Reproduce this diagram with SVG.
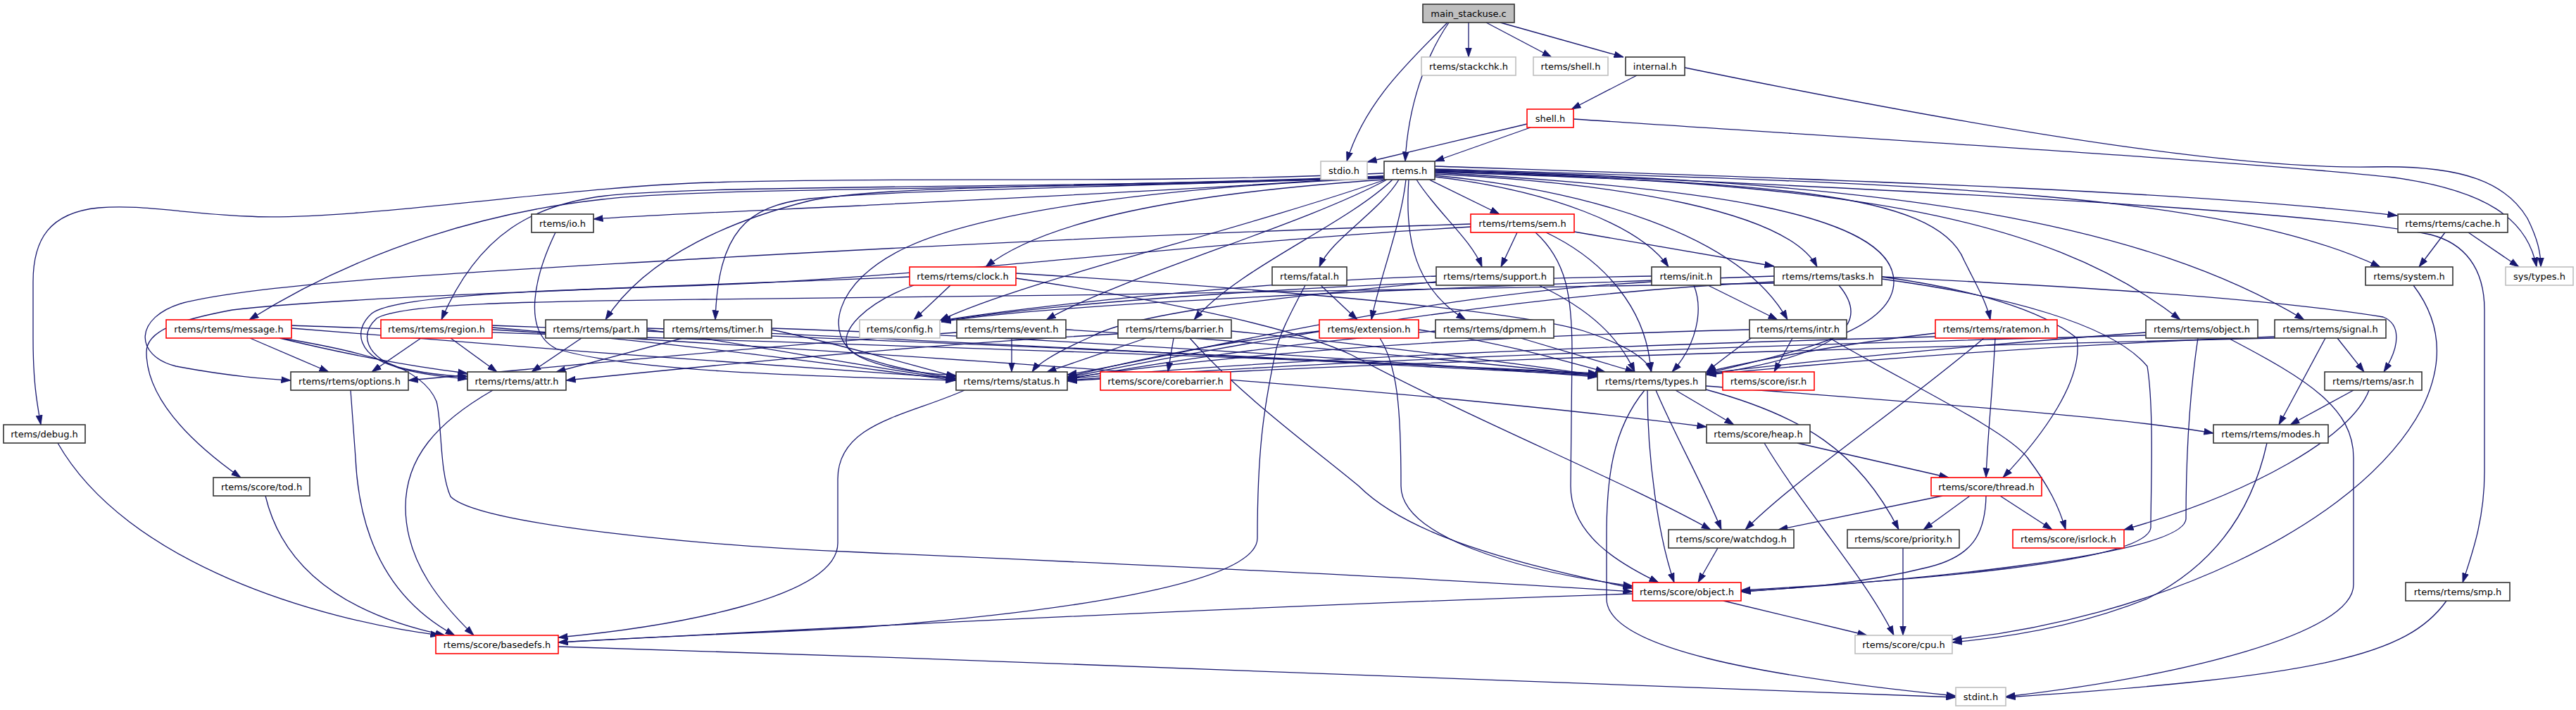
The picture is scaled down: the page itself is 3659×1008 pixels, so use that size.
<svg xmlns="http://www.w3.org/2000/svg" width="3659" height="1008" viewBox="0 0 3659 1008">
<defs>
<style>
.e path{fill:none;stroke:#191970;stroke-width:1.3;marker-end:url(#a)}
.n rect{fill:#fff;stroke-width:1.6}
.k rect{stroke:#333}
.r rect{stroke:#ff0000}
.g rect{stroke:#bfbfbf}
.m rect{fill:#bfbfbf;stroke:#333}
.n text{font-family:"DejaVu Sans",Verdana,sans-serif;font-size:13px;text-anchor:middle;fill:#000}
</style>
<marker id="a" viewBox="0 0 14 10" refX="13.5" refY="5" markerWidth="14" markerHeight="10" markerUnits="userSpaceOnUse" orient="auto">
<path d="M0,0.5 L13.5,5 L0,9.5 Z" fill="#191970" stroke="#191970" stroke-width="0.8"/>
</marker>
</defs>
<rect x="0" y="0" width="3659" height="1008" fill="#fff"/>
<g id="edges" class="e">
<path d="M2056,32 C2010,80 1940,140 1913,229"/>
<path d="M2058,32 C2025,80 2000,150 1996,229"/>
<path d="M2086,32 L2086,81"/>
<path d="M2111,32 L2204,81"/>
<path d="M2131,32 L2306,81"/>
<path d="M2325,107 L2232,155"/>
<path d="M2393,96 C2900,200 3200,240 3370,237 C3500,234 3560,260 3590,310 C3605,340 3609,360 3609,379"/>
<path d="M2169,176 L1942,230"/>
<path d="M2174,181 L2038,229"/>
<path d="M2235,169 C2700,200 3200,230 3400,252 C3530,270 3590,310 3603,379"/>
<path d="M3506,330 L3578,379"/>
<path d="M3473,330 L3436,379"/>
<path d="M1965,250 C1700,270 1350,285 1220,292 C1050,300 930,305 843,311"/>
<path d="M1965,246 C1600,262 1300,250 1011,259 C800,265 500,315 350,307 C250,302 200,290 140,295 C70,302 47,340 47,400 L47,480 C47,540 52,570 58,603"/>
<path d="M1965,252 C1500,270 1000,265 856,283 C700,300 520,350 354,454"/>
<path d="M1965,252 C1500,268 1000,262 860,278 C760,290 680,330 627,454"/>
<path d="M1965,250 C1600,265 1250,262 1150,285 C1050,310 920,360 860,454"/>
<path d="M1965,251 C1600,266 1250,270 1150,282 C1060,292 1020,330 1016,454"/>
<path d="M1966,255 C1750,270 1500,300 1400,379"/>
<path d="M1968,255 C1750,330 1450,400 1335,455"/>
<path d="M1970,255 C1850,320 1600,390 1486,454"/>
<path d="M1978,255 C1910,320 1760,380 1696,454"/>
<path d="M1987,255 C1960,300 1890,340 1874,379"/>
<path d="M1997,255 C1990,320 1958,400 1948,454"/>
<path d="M2001,255 C1995,340 2010,410 2082,454"/>
<path d="M2012,255 C2040,300 2090,340 2105,379"/>
<path d="M2030,255 L2130,304"/>
<path d="M2038,251 C2200,270 2330,320 2370,379"/>
<path d="M2038,249 C2250,270 2470,330 2539,454"/>
<path d="M2038,247 C2300,260 2540,300 2581,379"/>
<path d="M2038,245 C2400,265 2690,300 2690,400 C2690,470 2550,500 2424,530"/>
<path d="M2038,244 C2500,260 2750,270 2790,370 C2810,410 2822,430 2827,454"/>
<path d="M2038,243 C2600,260 2900,300 3097,454"/>
<path d="M2038,242 C2700,255 3050,320 3273,454"/>
<path d="M2038,240 C2700,260 3150,270 3381,379"/>
<path d="M2038,236 C2600,255 3100,270 3405,306"/>
<path d="M2038,241 C2700,268 3300,300 3452,333 C3500,345 3529,380 3529,440 L3529,670 C3529,740 3510,790 3498,827"/>
<path d="M1966,253 C1650,265 1400,300 1290,350 C1180,400 1170,480 1220,505 C1260,520 1310,530 1357,537"/>
<path d="M789,330 C760,390 740,470 790,495 C900,530 1200,535 1357,540"/>
<path d="M2155,330 L2132,379"/>
<path d="M2236,329 L2520,378"/>
<path d="M2196,330 C2280,370 2340,440 2345,528"/>
<path d="M2181,330 C2225,370 2233,420 2233,500 L2231,690 C2231,760 2300,800 2356,827"/>
<path d="M2089,318 C1700,330 1300,350 1000,367 C700,385 380,400 260,430 C190,450 190,505 250,520 C330,535 380,538 413,540"/>
<path d="M2089,322 C1700,345 1300,395 1000,405 C750,413 560,420 528,445 C500,470 510,505 560,520 C600,530 630,533 664,535"/>
<path d="M1350,405 L1298,454"/>
<path d="M1298,405 C1230,430 1190,470 1205,495 C1230,520 1300,530 1358,533"/>
<path d="M1443,388 C1800,410 2150,440 2250,470 C2310,490 2340,510 2346,528"/>
<path d="M1443,395 C1680,430 1850,470 1920,504 C2100,600 2300,680 2430,752"/>
<path d="M1292,393 C1000,405 500,420 330,440 C250,455 208,470 208,500 C208,560 260,620 342,678"/>
<path d="M1876,405 L1928,454"/>
<path d="M1854,405 C1830,450 1815,480 1811,504 C1795,580 1786,640 1786,764 C1786,830 1500,870 1220,891 C1050,900 900,905 793,912"/>
<path d="M2040,392 C1800,400 1500,430 1337,455"/>
<path d="M2186,405 C2260,440 2300,480 2322,528"/>
<path d="M2040,400 C1850,420 1620,440 1550,478 C1500,500 1475,515 1466,528"/>
<path d="M2346,392 C1900,400 1500,430 1337,456"/>
<path d="M2426,405 L2525,454"/>
<path d="M2406,405 C2420,440 2410,490 2375,528"/>
<path d="M2346,400 C2000,420 1700,500 1516,532"/>
<path d="M2520,392 C2000,410 1500,430 1337,457"/>
<path d="M2612,405 C2650,450 2640,500 2424,532"/>
<path d="M2673,393 C2800,410 2900,440 2950,480 C2960,540 2900,620 2845,678"/>
<path d="M2673,396 C2850,420 3000,460 3050,520 C3060,580 3055,700 3055,749 C3050,800 2700,825 2473,838"/>
<path d="M2673,393 C2900,405 3200,420 3385,450 C3410,460 3410,490 3386,528"/>
<path d="M2520,402 C2200,410 1500,420 1000,425 C760,428 570,430 535,452 C510,475 520,505 565,522 C600,532 635,535 664,538"/>
<path d="M2520,400 C2100,420 1700,500 1516,536"/>
<path d="M355,480 L467,528"/>
<path d="M397,480 C480,500 580,520 664,530"/>
<path d="M414,466 C700,490 1100,520 1358,537"/>
<path d="M414,462 C900,480 1800,505 2269,530"/>
<path d="M400,480 C520,500 600,520 620,570 C628,600 624,670 640,705 C680,745 1000,775 1220,784 C1700,805 2100,825 2319,840"/>
<path d="M598,480 L528,528"/>
<path d="M640,480 L706,528"/>
<path d="M699,465 C1000,490 1200,520 1358,540"/>
<path d="M699,462 C1200,480 1900,510 2269,532"/>
<path d="M699,468 C1200,500 1900,540 2424,606"/>
<path d="M826,480 L755,528"/>
<path d="M919,468 C1100,495 1250,525 1358,538"/>
<path d="M919,466 C1300,480 1900,515 2269,533"/>
<path d="M970,480 L790,528"/>
<path d="M1096,468 C1200,490 1300,520 1358,535"/>
<path d="M1096,466 C1500,480 2000,515 2269,535"/>
<path d="M1437,480 L1437,528"/>
<path d="M1359,472 C1100,490 800,520 580,540"/>
<path d="M1514,468 C1800,485 2100,515 2269,533"/>
<path d="M1628,480 L1487,528"/>
<path d="M1667,480 L1659,528"/>
<path d="M1690,480 C1760,560 1870,640 1930,690 C2000,760 2150,800 2319,835"/>
<path d="M1588,474 C1300,490 1000,520 804,540"/>
<path d="M1749,470 C1950,490 2150,515 2269,533"/>
<path d="M1874,470 C1700,490 1600,515 1516,535"/>
<path d="M2015,468 C2150,490 2230,515 2280,528"/>
<path d="M1960,480 C1985,520 1990,580 1990,690 C1990,760 2150,810 2319,832"/>
<path d="M2039,470 C1800,490 1650,515 1516,538"/>
<path d="M2160,480 L2322,528"/>
<path d="M2546,480 L2520,528"/>
<path d="M2485,468 C2000,480 1700,510 1516,537"/>
<path d="M2490,478 C2460,500 2440,515 2424,528"/>
<path d="M2599,480 C2700,540 2850,610 2880,650 C2910,690 2925,720 2934,752"/>
<path d="M2749,473 C2600,490 2480,515 2424,528"/>
<path d="M2749,478 C2300,490 1800,510 1516,538"/>
<path d="M2818,480 C2700,580 2550,680 2479,752"/>
<path d="M2834,480 C2830,560 2823,620 2821,678"/>
<path d="M3048,472 C2800,490 2550,515 2424,530"/>
<path d="M3048,476 C2500,490 1900,510 1516,540"/>
<path d="M3122,480 C3110,560 3105,650 3105,737 C3100,790 2700,825 2473,840"/>
<path d="M3165,480 C3280,540 3343,580 3343,650 L3343,830 C3343,900 3100,960 2849,989"/>
<path d="M3320,480 L3358,528"/>
<path d="M3303,480 L3237,603"/>
<path d="M3231,478 C2900,490 2600,515 2424,532"/>
<path d="M3231,480 C2600,495 1900,515 1516,541"/>
<path d="M3343,554 L3253,603"/>
<path d="M3365,554 C3340,620 3200,700 3017,752"/>
<path d="M3220,629 C3200,720 3150,800 3050,850 C2950,890 2850,905 2773,912"/>
<path d="M3428,405 C3470,460 3470,520 3440,580 C3350,750 3050,880 2773,908"/>
<path d="M3475,853 C3420,930 3300,960 2849,990"/>
<path d="M2380,554 L2463,603"/>
<path d="M2423,548 C2700,570 3000,590 3144,615"/>
<path d="M2352,554 C2380,620 2420,690 2445,752"/>
<path d="M2340,554 C2340,650 2355,760 2378,827"/>
<path d="M2423,553 C2560,590 2640,640 2697,752"/>
<path d="M2336,554 C2290,610 2282,680 2282,760 L2282,850 C2282,920 2500,960 2778,988"/>
<path d="M1370,554 C1290,590 1190,600 1190,680 L1190,771 C1190,850 950,890 793,905"/>
<path d="M700,554 C620,600 576,650 576,720 C576,800 630,860 673,902"/>
<path d="M498,554 L505,650 C510,760 550,850 646,902"/>
<path d="M82,629 C180,800 450,880 625,902"/>
<path d="M377,704 C400,800 480,870 632,902"/>
<path d="M2319,843 C1800,860 1200,890 793,912"/>
<path d="M2448,853 L2652,902"/>
<path d="M793,918 C1500,940 2300,970 2778,990"/>
<path d="M2553,629 L2768,678"/>
<path d="M2506,629 C2560,720 2650,820 2690,902"/>
<path d="M2759,704 L2526,752"/>
<path d="M2798,704 L2732,752"/>
<path d="M2841,704 L2915,752"/>
<path d="M2821,704 C2820,760 2800,790 2740,805 C2640,830 2550,835 2473,840"/>
<path d="M2440,778 L2412,827"/>
<path d="M2703,778 L2703,902"/>
</g>
<g id="n_main" class="n m"><rect x="2021" y="6" width="130" height="26"/><text x="2086" y="24">main_stackuse.c</text></g>
<g id="n_stackchk" class="n g"><rect x="2019" y="81" width="134" height="26"/><text x="2086" y="99">rtems/stackchk.h</text></g>
<g id="n_rshell" class="n g"><rect x="2178" y="81" width="106" height="26"/><text x="2231" y="99">rtems/shell.h</text></g>
<g id="n_internal" class="n k"><rect x="2309" y="81" width="84" height="26"/><text x="2351" y="99">internal.h</text></g>
<g id="n_shell" class="n r"><rect x="2169" y="155" width="66" height="26"/><text x="2202" y="173">shell.h</text></g>
<g id="n_stdio" class="n g"><rect x="1876" y="229" width="66" height="26"/><text x="1909" y="247">stdio.h</text></g>
<g id="n_rtems" class="n k"><rect x="1966" y="229" width="72" height="26"/><text x="2002" y="247">rtems.h</text></g>
<g id="n_io" class="n k"><rect x="755" y="304" width="88" height="26"/><text x="799" y="322">rtems/io.h</text></g>
<g id="n_sem" class="n r"><rect x="2089" y="304" width="147" height="26"/><text x="2162.5" y="322">rtems/rtems/sem.h</text></g>
<g id="n_cache" class="n k"><rect x="3406" y="304" width="156" height="26"/><text x="3484" y="322">rtems/rtems/cache.h</text></g>
<g id="n_clock" class="n r"><rect x="1292" y="379" width="151" height="26"/><text x="1367.5" y="397">rtems/rtems/clock.h</text></g>
<g id="n_fatal" class="n k"><rect x="1807" y="379" width="106" height="26"/><text x="1860" y="397">rtems/fatal.h</text></g>
<g id="n_support" class="n k"><rect x="2040" y="379" width="167" height="26"/><text x="2123.5" y="397">rtems/rtems/support.h</text></g>
<g id="n_init" class="n k"><rect x="2346" y="379" width="98" height="26"/><text x="2395" y="397">rtems/init.h</text></g>
<g id="n_tasks" class="n k"><rect x="2520" y="379" width="153" height="26"/><text x="2596.5" y="397">rtems/rtems/tasks.h</text></g>
<g id="n_system" class="n k"><rect x="3360" y="379" width="124" height="26"/><text x="3422" y="397">rtems/system.h</text></g>
<g id="n_systypes" class="n g"><rect x="3559" y="379" width="96" height="26"/><text x="3607" y="397">sys/types.h</text></g>
<g id="n_message" class="n r"><rect x="236" y="454" width="178" height="26"/><text x="325" y="472">rtems/rtems/message.h</text></g>
<g id="n_region" class="n r"><rect x="541" y="454" width="158" height="26"/><text x="620" y="472">rtems/rtems/region.h</text></g>
<g id="n_part" class="n k"><rect x="775" y="454" width="144" height="26"/><text x="847" y="472">rtems/rtems/part.h</text></g>
<g id="n_timer" class="n k"><rect x="943" y="454" width="153" height="26"/><text x="1019.5" y="472">rtems/rtems/timer.h</text></g>
<g id="n_config" class="n g"><rect x="1221" y="454" width="114" height="26"/><text x="1278" y="472">rtems/config.h</text></g>
<g id="n_event" class="n k"><rect x="1359" y="454" width="155" height="26"/><text x="1436.5" y="472">rtems/rtems/event.h</text></g>
<g id="n_barrier" class="n k"><rect x="1588" y="454" width="161" height="26"/><text x="1668.5" y="472">rtems/rtems/barrier.h</text></g>
<g id="n_extension" class="n r"><rect x="1874" y="454" width="141" height="26"/><text x="1944.5" y="472">rtems/extension.h</text></g>
<g id="n_dpmem" class="n k"><rect x="2039" y="454" width="168" height="26"/><text x="2123" y="472">rtems/rtems/dpmem.h</text></g>
<g id="n_intr" class="n k"><rect x="2485" y="454" width="138" height="26"/><text x="2554" y="472">rtems/rtems/intr.h</text></g>
<g id="n_ratemon" class="n r"><rect x="2749" y="454" width="173" height="26"/><text x="2835.5" y="472">rtems/rtems/ratemon.h</text></g>
<g id="n_robject" class="n k"><rect x="3048" y="454" width="159" height="26"/><text x="3127.5" y="472">rtems/rtems/object.h</text></g>
<g id="n_signal" class="n k"><rect x="3231" y="454" width="158" height="26"/><text x="3310" y="472">rtems/rtems/signal.h</text></g>
<g id="n_options" class="n k"><rect x="413" y="528" width="167" height="26"/><text x="496.5" y="546">rtems/rtems/options.h</text></g>
<g id="n_attr" class="n k"><rect x="664" y="528" width="140" height="26"/><text x="734" y="546">rtems/rtems/attr.h</text></g>
<g id="n_status" class="n k"><rect x="1358" y="528" width="158" height="26"/><text x="1437" y="546">rtems/rtems/status.h</text></g>
<g id="n_corebarrier" class="n r"><rect x="1563" y="528" width="185" height="26"/><text x="1655.5" y="546">rtems/score/corebarrier.h</text></g>
<g id="n_types" class="n k"><rect x="2269" y="528" width="154" height="26"/><text x="2346" y="546">rtems/rtems/types.h</text></g>
<g id="n_isr" class="n r"><rect x="2447" y="528" width="130" height="26"/><text x="2512" y="546">rtems/score/isr.h</text></g>
<g id="n_asr" class="n k"><rect x="3302" y="528" width="138" height="26"/><text x="3371" y="546">rtems/rtems/asr.h</text></g>
<g id="n_debug" class="n k"><rect x="5" y="603" width="116" height="26"/><text x="63" y="621">rtems/debug.h</text></g>
<g id="n_heap" class="n k"><rect x="2424" y="603" width="147" height="26"/><text x="2497.5" y="621">rtems/score/heap.h</text></g>
<g id="n_modes" class="n k"><rect x="3144" y="603" width="163" height="26"/><text x="3225.5" y="621">rtems/rtems/modes.h</text></g>
<g id="n_tod" class="n k"><rect x="303" y="678" width="137" height="26"/><text x="371.5" y="696">rtems/score/tod.h</text></g>
<g id="n_thread" class="n r"><rect x="2743" y="678" width="157" height="26"/><text x="2821.5" y="696">rtems/score/thread.h</text></g>
<g id="n_watchdog" class="n k"><rect x="2370" y="752" width="178" height="26"/><text x="2459" y="770">rtems/score/watchdog.h</text></g>
<g id="n_priority" class="n k"><rect x="2624" y="752" width="159" height="26"/><text x="2703.5" y="770">rtems/score/priority.h</text></g>
<g id="n_isrlock" class="n r"><rect x="2859" y="752" width="158" height="26"/><text x="2938" y="770">rtems/score/isrlock.h</text></g>
<g id="n_sobject" class="n r"><rect x="2319" y="827" width="154" height="26"/><text x="2396" y="845">rtems/score/object.h</text></g>
<g id="n_smp" class="n k"><rect x="3417" y="827" width="148" height="26"/><text x="3491" y="845">rtems/rtems/smp.h</text></g>
<g id="n_basedefs" class="n r"><rect x="619" y="902" width="174" height="26"/><text x="706" y="920">rtems/score/basedefs.h</text></g>
<g id="n_cpu" class="n g"><rect x="2635" y="902" width="138" height="26"/><text x="2704" y="920">rtems/score/cpu.h</text></g>
<g id="n_stdint" class="n g"><rect x="2778" y="976" width="71" height="26"/><text x="2813.5" y="994">stdint.h</text></g>
</svg>
